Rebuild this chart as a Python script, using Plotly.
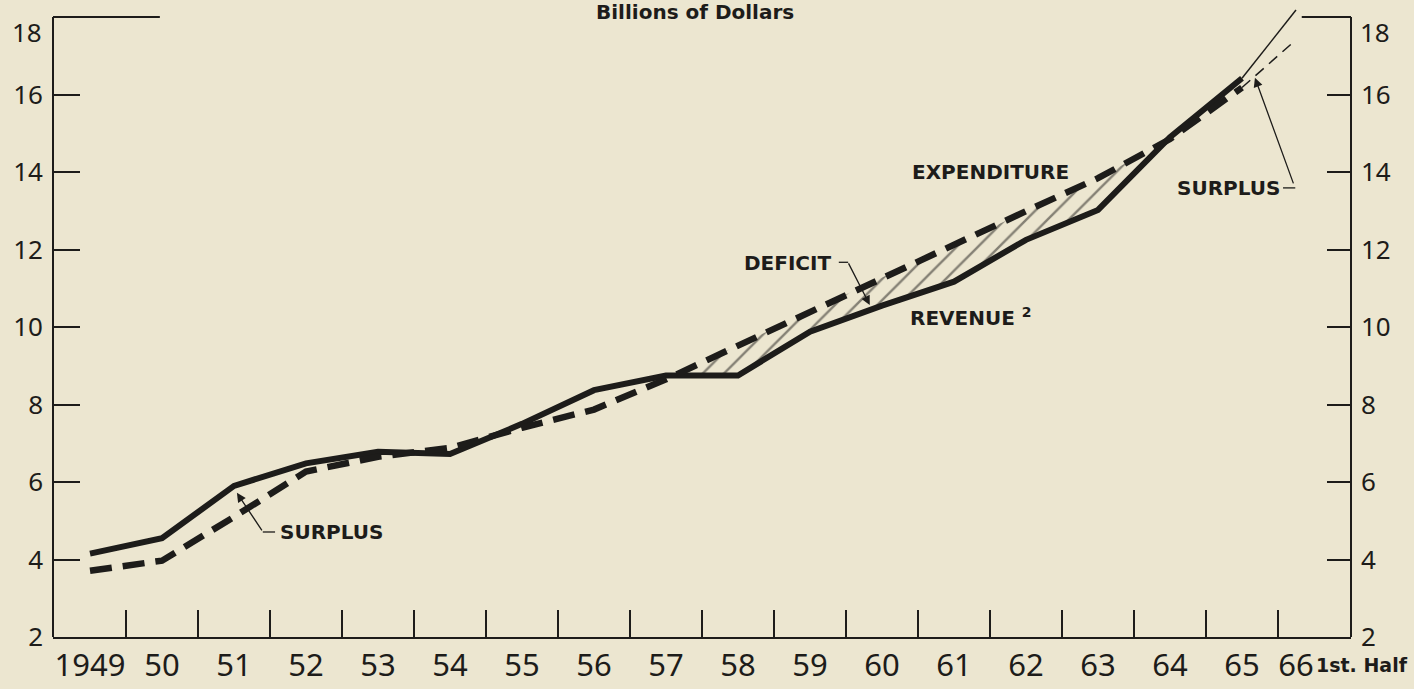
import plotly.graph_objects as go

# ---------------- data ----------------
year_labels = ["1949", "50", "51", "52", "53", "54", "55", "56", "57", "58",
               "59", "60", "61", "62", "63", "64", "65", "66"]
year_pos = [1949, 1950, 1951, 1952, 1953, 1954, 1955, 1956, 1957, 1958,
            1959, 1960, 1961, 1962, 1963, 1964, 1965, 1965.75]
revenue = [4.15, 4.55, 5.90, 6.48, 6.78, 6.72, 7.50, 8.37, 8.75, 8.75,
           9.88, 10.55, 11.17, 12.25, 13.02, 14.90, 16.42, 18.18]
expenditure = [3.71, 3.97, 5.10, 6.27, 6.65, 6.88, 7.40, 7.87, 8.65, 9.52,
               10.40, 11.28, 12.12, 12.99, 13.84, 14.85, 16.18, 17.41]
y_ticks = [2, 4, 6, 8, 10, 12, 14, 16, 18]
deficit_years = (1957, 1964)

INK = "#1d1c1a"
BG = "#ece6d0"
X_RANGE = [1948.486, 1966.514]
Y_RANGE = [2, 18.31]

# ---------------- deficit region (expenditure above revenue) ----------------
i0 = year_pos.index(deficit_years[0])
i1 = year_pos.index(deficit_years[1])
top_x, top_y, bot_x, bot_y = [], [], [], []
for i in range(i0, i1 + 1):
    d = expenditure[i] - revenue[i]
    if i > i0:
        dp = expenditure[i - 1] - revenue[i - 1]
        if (dp < 0) != (d < 0):
            t = dp / (dp - d)
            xc = year_pos[i - 1] + t * (year_pos[i] - year_pos[i - 1])
            yc = revenue[i - 1] + t * (revenue[i] - revenue[i - 1])
            top_x.append(xc); top_y.append(yc)
            bot_x.append(xc); bot_y.append(yc)
    if d >= 0:
        top_x.append(year_pos[i]); top_y.append(expenditure[i])
        bot_x.append(year_pos[i]); bot_y.append(revenue[i])
poly_x = top_x + bot_x[::-1]
poly_y = top_y + bot_y[::-1]

fig = go.Figure()

fig.add_trace(go.Scatter(
    x=poly_x, y=poly_y, mode="lines", fill="toself",
    line=dict(width=0, color="rgba(0,0,0,0)"),
    fillcolor="rgba(0,0,0,0)",
    fillpattern=dict(shape="/", size=15, solidity=0.16, fgcolor=INK,
                     bgcolor="rgba(0,0,0,0)", fillmode="overlay"),
    hoverinfo="skip", showlegend=False))

# heavy lines 1949-1965
fig.add_trace(go.Scatter(
    x=year_pos[:-1], y=revenue[:-1], mode="lines", name="Revenue",
    line=dict(color=INK, width=6), showlegend=False))
fig.add_trace(go.Scatter(
    x=year_pos[:-1], y=expenditure[:-1], mode="lines", name="Expenditure",
    line=dict(color=INK, width=6.5, dash="22px,11px"), showlegend=False))
# thin extension to 1966 1st half
fig.add_trace(go.Scatter(
    x=year_pos[-2:], y=revenue[-2:], mode="lines",
    line=dict(color=INK, width=1.5), showlegend=False))
fig.add_trace(go.Scatter(
    x=year_pos[-2:], y=expenditure[-2:], mode="lines",
    line=dict(color=INK, width=1.5, dash="11px,7px"), showlegend=False))
# carrier for the right-hand axis
fig.add_trace(go.Scatter(
    x=year_pos, y=revenue, yaxis="y2", mode="lines",
    line=dict(width=0, color="rgba(0,0,0,0)"), hoverinfo="skip",
    showlegend=False))

tick_font = dict(family="Noto Sans", size=26, color=INK)
# top value is written a little below its tick, as in the reference
y_text = [str(v) for v in y_ticks[:-1]] + [""]

fig.update_layout(
    width=1414, height=689,
    margin=dict(l=53, r=63, t=5, b=52, autoexpand=False),
    paper_bgcolor=BG, plot_bgcolor=BG,
    showlegend=False,
    xaxis=dict(range=X_RANGE, tickmode="array", tickvals=year_pos,
               ticktext=year_labels, ticks="", showgrid=False, zeroline=False,
               showline=True, linecolor=INK, linewidth=2, automargin=False,
               tickfont=dict(family="Noto Sans", size=31, color=INK),
               ticklabelstandoff=0, ticklabeloverflow="allow",
               minor=dict(tickmode="array",
                          tickvals=[p + 0.5 for p in year_pos[:-1]],
                          ticks="inside", ticklen=27, tickwidth=1.5,
                          tickcolor=INK, showgrid=False)),
    yaxis=dict(range=Y_RANGE, tickmode="array", tickvals=y_ticks,
               ticktext=y_text,
               ticks="inside", ticklen=27, tickwidth=1.5, tickcolor=INK,
               showgrid=False, zeroline=False, showline=False, automargin=False,
               tickfont=tick_font, ticklabelstandoff=9,
               ticklabeloverflow="allow"),
    yaxis2=dict(range=Y_RANGE, overlaying="y", side="right",
                tickmode="array", tickvals=y_ticks, ticktext=y_text,
                automargin=False,
                ticks="inside", ticklen=24, tickwidth=1.5, tickcolor=INK,
                showgrid=False, zeroline=False, showline=False,
                tickfont=tick_font, ticklabelstandoff=9,
                ticklabeloverflow="allow"),
)

# "18" labels
fig.add_annotation(text=str(y_ticks[-1]), xref="paper", yref="y", x=0,
                   y=y_ticks[-1], xanchor="right", yanchor="middle",
                   xshift=-9, yshift=-15, showarrow=False, font=tick_font)
fig.add_annotation(text=str(y_ticks[-1]), xref="paper", yref="y", x=1,
                   y=y_ticks[-1], xanchor="left", yanchor="middle",
                   xshift=7, yshift=-15, showarrow=False, font=tick_font)

line_style = dict(color=INK, width=2)
fig.add_shape(type="line", xref="paper", yref="y", x0=0, x1=0,
              y0=y_ticks[0], y1=y_ticks[-1], line=line_style)
fig.add_shape(type="line", xref="paper", yref="y", x0=1, x1=1,
              y0=y_ticks[0], y1=y_ticks[-1], line=line_style)
fig.add_shape(type="line", xref="x", yref="y", x0=X_RANGE[0], x1=1949.97,
              y0=y_ticks[-1], y1=y_ticks[-1], line=line_style)
fig.add_shape(type="line", xref="x", yref="y", x0=1965.83, x1=X_RANGE[1],
              y0=y_ticks[-1], y1=y_ticks[-1], line=line_style)

label_font = dict(family="DejaVu Sans", size=20, color=INK)
thin = dict(color=INK, width=1.3)

# header
fig.add_annotation(text="<b>Billions of Dollars</b>", x=1957.40, y=18.12,
                   xref="x", yref="y", showarrow=False,
                   font=dict(family="DejaVu Sans", size=20, color=INK))

# lower SURPLUS
fig.add_annotation(text="<b>SURPLUS</b>", x=1951.61, y=4.71, xanchor="left",
                   showarrow=False, font=label_font)
fig.add_shape(type="line", x0=1951.40, x1=1951.57, y0=4.71, y1=4.71, line=thin)
fig.add_annotation(text="", x=1951.04, y=5.72, ax=26, ay=39, showarrow=True,
                   arrowhead=2, arrowsize=1.4, arrowwidth=1.3, arrowcolor=INK)

# DEFICIT
fig.add_annotation(text="<b>DEFICIT</b>", x=1959.32, y=11.65, xanchor="right",
                   showarrow=False, font=label_font)
fig.add_shape(type="line", x0=1959.40, x1=1959.53, y0=11.67, y1=11.67, line=thin)
fig.add_annotation(text="", x=1959.83, y=10.57, ax=-22, ay=-43, showarrow=True,
                   arrowhead=2, arrowsize=1.4, arrowwidth=1.3, arrowcolor=INK)

# EXPENDITURE / REVENUE
fig.add_annotation(text="<b>EXPENDITURE</b>", x=1960.39, y=14.0, xanchor="left",
                   showarrow=False, font=label_font)
fig.add_annotation(text="<b>REVENUE <sup>2</sup></b>", x=1960.36, y=10.25,
                   xanchor="left", showarrow=False, font=label_font)

# upper SURPLUS
fig.add_annotation(text="<b>SURPLUS</b>", x=1965.55, y=13.59, xanchor="right",
                   showarrow=False, font=label_font)
fig.add_shape(type="line", x0=1965.57, x1=1965.74, y0=13.59, y1=13.59, line=thin)
fig.add_annotation(text="", x=1965.18, y=16.43, ax=39, ay=107, showarrow=True,
                   arrowhead=2, arrowsize=1.4, arrowwidth=1.3, arrowcolor=INK)

# 1st. Half
fig.add_annotation(text="<b>1st. Half</b>", x=1.0085, y=-0.045, xref="paper",
                   yref="paper", showarrow=False, xanchor="center",
                   yanchor="middle",
                   font=dict(family="DejaVu Sans", size=19, color=INK))

fig.write_html("out.html", config={"displayModeBar": False},
               post_script="document.body.style.margin='0';")
